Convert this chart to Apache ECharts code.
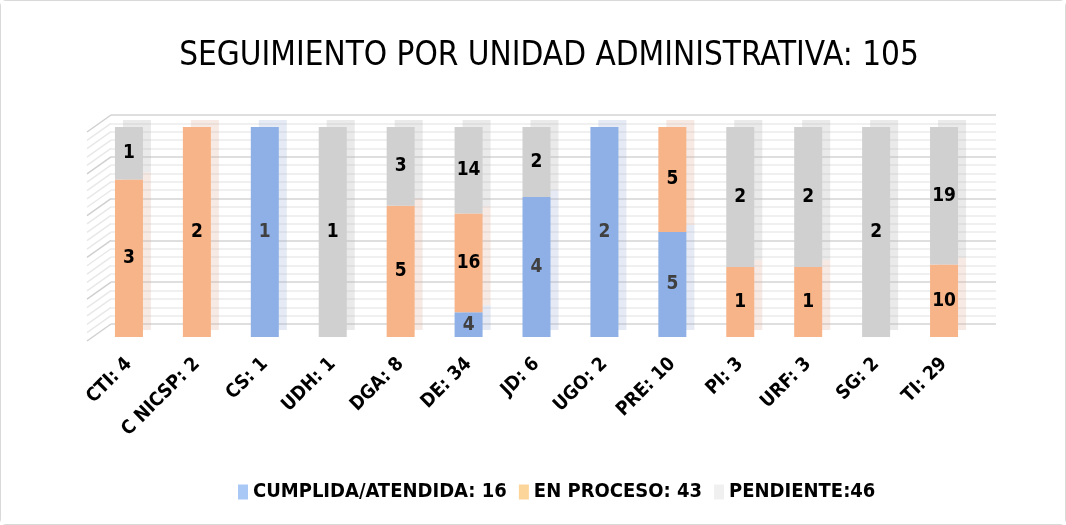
<!DOCTYPE html>
<html>
<head>
<meta charset="utf-8">
<script src="https://cdn.jsdelivr.net/npm/echarts@6/dist/echarts.min.js"></script>
<style>
html,body{margin:0;padding:0;background:#fff;}
#c{width:1066px;height:525px;box-sizing:border-box;border:1px solid #d9d9d9;border-radius:6px;}
</style>
</head>
<body>
<div id="c"></div>
<script>
const titleText = 'SEGUIMIENTO POR UNIDAD ADMINISTRATIVA: 105';
const categories = ['CTI: 4','C NICSP: 2','CS: 1','UDH: 1','DGA: 8','DE: 34','JD: 6','UGO: 2','PRE: 10','PI: 3','URF: 3','SG: 2','TI: 29'];
const cumplida  = [0,0,1,0,0,4,4,2,5,0,0,0,0];
const proceso   = [3,2,0,0,5,16,0,0,5,1,1,0,10];
const pendiente = [1,0,0,1,3,14,2,0,0,2,2,2,19];
const seriesNames = ['CUMPLIDA/ATENDIDA: 16','EN PROCESO: 43','PENDIENTE:46'];
const percentTicks = [0,20,40,60,80,100];

const FONT = "'Liberation Sans Narrow','DejaVu Sans Condensed','Open Sans',sans-serif";
const totals = categories.map((_, i) => cumplida[i] + proceso[i] + pendiente[i]);
const pct = arr => arr.map((v, i) => ({ value: totals[i] ? v / totals[i] * 100 : 0, raw: v }));

const barColors = ['#8EB0E6', '#F7B488', '#D0D0D0'];
const legendColors = ['#A9C8F5', '#FBD59A', '#F0F0F0'];
const sideColors = ['rgba(150,170,210,0.25)', 'rgba(225,170,150,0.25)', 'rgba(180,180,180,0.28)'];
const labelColors = ['#404040', '#000', '#000'];

const chart = echarts.init(document.getElementById('c'));
const raws = [cumplida, proceso, pendiente];

function mkSeries(k) {
  return {
    name: seriesNames[k], type: 'bar', stack: 'a', xAxisIndex: 1, yAxisIndex: 1,
    barWidth: 28,
    data: pct(raws[k]),
    itemStyle: { color: barColors[k], shadowColor: sideColors[k], shadowBlur: 0, shadowOffsetX: 8, shadowOffsetY: -7 },
    label: {
      show: true, position: 'inside', fontFamily: FONT, fontWeight: 'bold', fontSize: 19, color: labelColors[k],
      formatter: p => p.data.raw ? String(p.data.raw) : ''
    },
    emphasis: { disabled: true }
  };
}

const option = {
  animation: false,
  backgroundColor: '#fff',
  title: { text: titleText, left: 543, top: 34, textAlign: 'center',
    textStyle: { fontFamily: FONT, fontWeight: 'normal', fontSize: 33, color: '#000' } },
  legend: {
    top: 476, left: 232,
    itemWidth: 10, itemHeight: 15, itemGap: 12,
    textStyle: { fontFamily: FONT, fontWeight: 'bold', fontSize: 20, color: '#000' },
    data: seriesNames.map((n, k) => ({ name: n, icon: 'rect', itemStyle: { color: legendColors[k], shadowColor: 'transparent' } }))
  },
  grid: [
    { left: 110, right: 69, top: 114, height: 209 },
    { left: 94, right: 87, top: 126, height: 210 }
  ],
  xAxis: [
    { gridIndex: 0, type: 'category', data: categories, show: false },
    { gridIndex: 1, type: 'category', data: categories,
      axisLine: { show: false }, axisTick: { show: false },
      axisLabel: { rotate: 45, margin: 24, interval: 0, fontFamily: FONT, fontWeight: 'bold', fontSize: 19, color: '#000' } }
  ],
  yAxis: [
    { gridIndex: 0, type: 'value', min: percentTicks[0], max: percentTicks[percentTicks.length-1], interval: 20,
      axisLabel: { show: false }, axisLine: { show: false }, axisTick: { show: false },
      splitLine: { show: true, lineStyle: { color: '#d4d4d4', width: 1.5 } },
      minorTick: { show: false, splitNumber: 5 },
      minorSplitLine: { show: true, lineStyle: { color: '#ececec', width: 1.5 } } },
    { gridIndex: 1, type: 'value', min: 0, max: 100, show: false, splitLine: { show: false } }
  ],
  series: [
    { type: 'line', xAxisIndex: 0, yAxisIndex: 0, data: [], silent: true },
    mkSeries(0), mkSeries(1), mkSeries(2)
  ]
};
chart.setOption(option);

// side wall perspective lines
const g = [];
for (let v = 0; v <= 100; v += 4) {
  const p = chart.convertToPixel({ gridIndex: 0 }, [0, v]);
  const x0 = 110;
  const major = v % 20 === 0;
  g.push({ type: 'line', silent: true,
    shape: { x1: x0 - 24, y1: p[1] + 17, x2: x0, y2: p[1] },
    style: { stroke: major ? '#d0d0d0' : '#e8e8e8', lineWidth: 1.5 } });
}
chart.setOption({ graphic: g });
</script>
</body>
</html>
